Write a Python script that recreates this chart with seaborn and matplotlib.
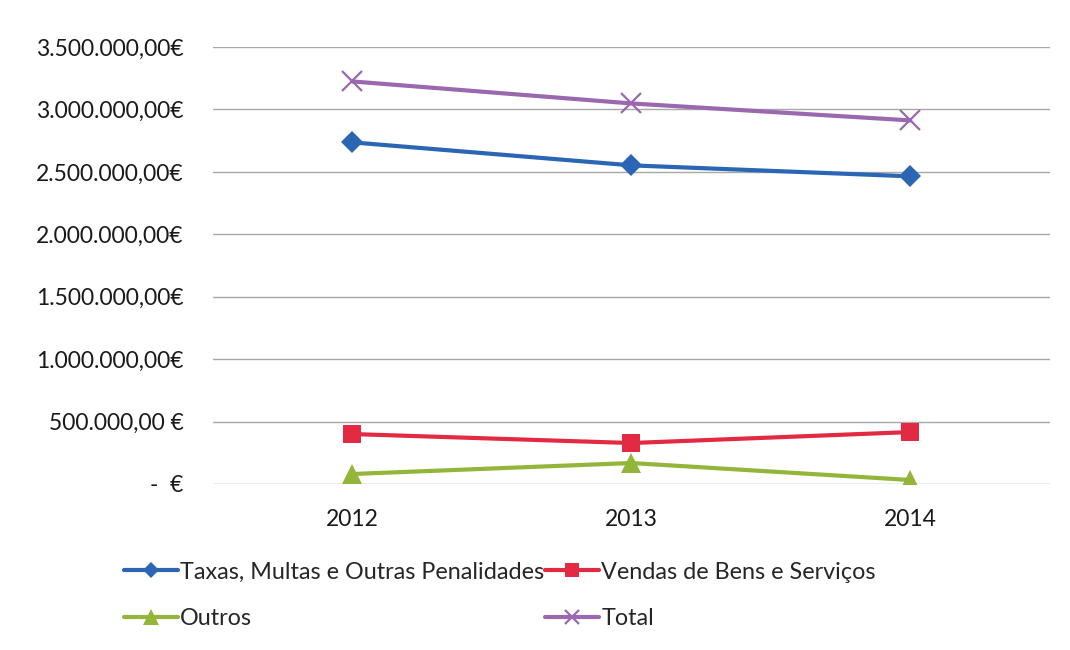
import matplotlib
matplotlib.use("Agg")
import matplotlib.pyplot as plt
import seaborn as sns
import pandas as pd
from matplotlib.ticker import FuncFormatter, MultipleLocator
from matplotlib.lines import Line2D

years = ["2012", "2013", "2014"]
taxas = [2736000, 2552000, 2464000]
vendas = [400000, 328000, 416000]
outros = [80000, 168000, 32000]
total = [3224000, 3048000, 2912000]

series_names = ["Taxas, Multas e Outras Penalidades", "Vendas de Bens e Serviços", "Outros", "Total"]
series_vals = [taxas, vendas, outros, total]

rows = []
for name, vals in zip(series_names, series_vals):
    for y, v in zip(years, vals):
        rows.append({"Ano": y, "Valor": v, "Série": name})
df = pd.DataFrame(rows)

sns.set_theme(style="white")
plt.rcParams['font.family'] = ['Lato', 'DejaVu Sans']

colors = {
    series_names[0]: "#2a66b3",
    series_names[1]: "#e22a42",
    series_names[2]: "#93b53a",
    series_names[3]: "#9a68ae",
}
sns_markers = {
    series_names[0]: "D",
    series_names[1]: "s",
    series_names[2]: "^",
    series_names[3]: "X",
}
final_markers = {
    series_names[0]: "D",
    series_names[1]: "s",
    series_names[2]: "^",
    series_names[3]: "x",
}
msizes = {series_names[0]: 11, series_names[1]: 13.5, series_names[2]: 15, series_names[3]: 14}
mews = {series_names[0]: 0, series_names[1]: 0, series_names[2]: 0, series_names[3]: 1.6}

fig = plt.figure(figsize=(10.7, 6.5), dpi=100)
ax = fig.add_axes([0.199, 0.2554, 0.782, 0.6723])

sns.lineplot(data=df, x="Ano", y="Valor", hue="Série", style="Série",
             palette=colors, markers=sns_markers, dashes=False, sort=False,
             linewidth=3.0, ax=ax, legend=False)

for line, name in zip(ax.get_lines(), series_names):
    line.set_marker(final_markers[name])
    line.set_markersize(msizes[name])
    line.set_markeredgewidth(mews[name])
    line.set_markeredgecolor(colors[name])
    line.set_markerfacecolor(colors[name])

ax.set_xlim(-0.5, 2.5)
ax.set_ylim(0, 3500000)
ax.yaxis.set_major_locator(MultipleLocator(500000))

def fmt(v, pos):
    if abs(v) < 1:
        return "-  €"
    s = f"{int(round(v)):,}".replace(",", ".") + ",00"
    if v < 1000000:
        return s + " €"
    return s + "€"

ax.yaxis.set_major_formatter(FuncFormatter(fmt))
ax.grid(axis="y", color="#a8a8a8", linewidth=1.0)
ax.grid(axis="x", visible=False)
for sp in ax.spines.values():
    sp.set_visible(False)
ax.tick_params(axis="y", length=0, pad=21, labelsize=16.5, labelcolor="#1a1a1a")
ax.tick_params(axis="x", length=0, pad=18, labelsize=16.5, labelcolor="#1a1a1a")
ax.set_xlabel("")
ax.set_ylabel("")

handles = []
for name in series_names:
    handles.append(Line2D([0], [0], color=colors[name], lw=3.0, marker=final_markers[name],
                          markersize=msizes[name] * 0.75, markeredgewidth=mews[name],
                          markeredgecolor=colors[name], markerfacecolor=colors[name]))
order = [0, 2, 1, 3]
fig.legend([handles[i] for i in order], [series_names[i] for i in order],
           loc="upper left", bbox_to_anchor=(0.116, 0.136), ncol=2,
           frameon=False, fontsize=16.8, handlelength=2.3, handletextpad=0.1,
           columnspacing=0.05, labelspacing=1.1, borderpad=0, borderaxespad=0)

fig.savefig("out.png", dpi=100)
